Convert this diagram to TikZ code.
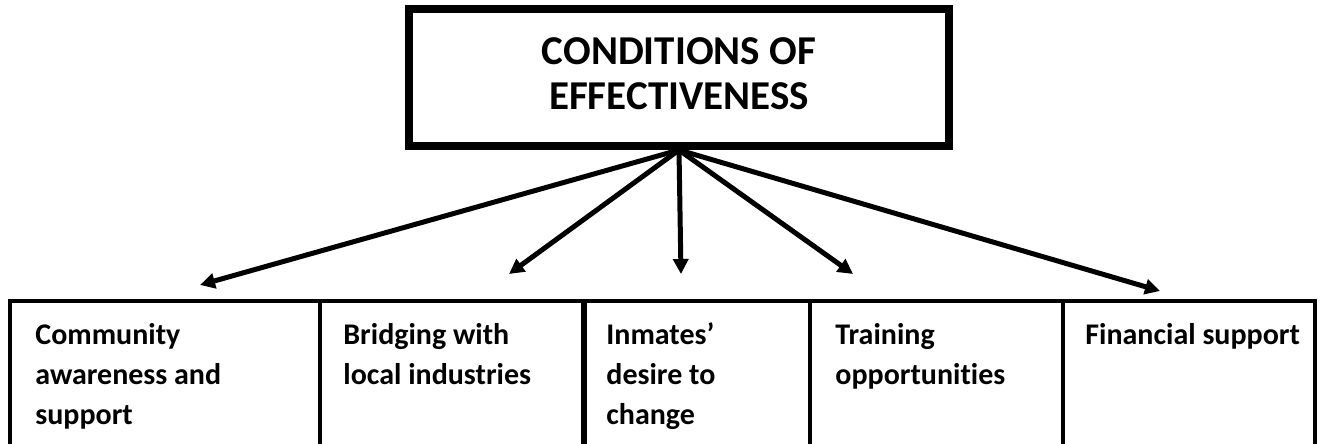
\documentclass[tikz,border=0pt]{standalone}
\usepackage{fontspec}
\setmainfont{Carlito}[Ligatures={TeX,NoCommon}]
\usetikzlibrary{arrows.meta, positioning}

\begin{document}
\begin{tikzpicture}[x=0.5pt, y=-0.5pt,
    head/.style={draw, line width=4pt, minimum width=270pt, minimum height=68.5pt,
      align=center, font=\fontsize{20.5}{22.5}\selectfont\bfseries},
    cell/.style={anchor=base west, align=left, inner sep=0pt,
      font=\fontsize{15}{20}\selectfont\bfseries},
    link/.style={line width=2.5pt, -{Triangle[length=7.5pt, width=7.5pt]}},
    rule/.style={line width=2pt}]
        \useasboundingbox (0,0) rectangle (1322,444);
        \node[head, text depth=4pt] (top) at (679,77.5) {CONDITIONS OF\\EFFECTIVENESS};
        % base = last line
        \node[cell] (comm) at (35,424) {Community\\awareness and\\support};
        \node[cell] (bridge) at (343,384) {Bridging with\\local industries};
        \node[cell] (inmates) at (606,424) {Inmates’\\desire to\\change};
        \node[cell] (train) at (835,384) {Training\\opportunities};
        \node[cell] (fin) at (1085,344) {Financial support};
        % cells of the bottom row
        \draw[rule] (10,444) |- (1315,301) -- (1315,444);
        \foreach \x in {320,810,1063}
            \draw[rule] (\x,301) -- (\x,444);
        \draw[rule, line width=3pt] (584,301) -- (584,444);
        % arrow ends
        \coordinate (hub) at (top.south);
        \coordinate (to comm) at (200,285);
        \coordinate (to bridge) at (509,274);
        \coordinate (to inmates) at (681,274);
        \coordinate (to train) at (853,274);
        \coordinate (to fin) at (1160,291);
        \foreach \t in {comm,bridge,inmates,train,fin}
            \draw[link] (hub) -- (to \t);
    \end{tikzpicture}
\end{document}
